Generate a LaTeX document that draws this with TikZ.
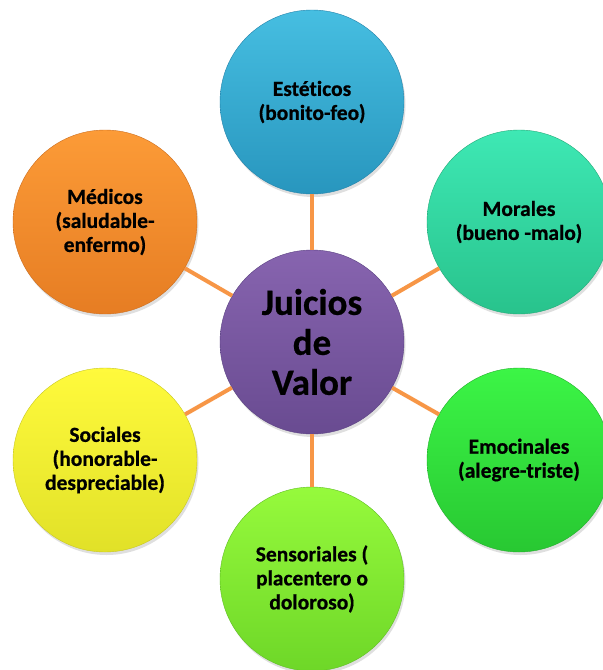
\documentclass[tikz,border=0pt]{standalone}
\usepackage{fontspec}
\setmainfont{Carlito}[BoldFont={Carlito Bold}, BoldFeatures={FakeBold=0.6}, Ligatures=NoCommon]
\usetikzlibrary{shadows}
\tikzset{
  bubble/.style={circle, minimum size=184pt, inner sep=0pt, align=center,
    font=\fontsize{21.5}{24}\selectfont\bfseries, text=black,
    drop shadow={opacity=0.25, shadow xshift=1.5pt, shadow yshift=-3pt}},
  conn/.style={draw=linkorange, line width=4pt}
}
\definecolor{linkorange}{HTML}{F79646}
\begin{document}
\begin{tikzpicture}[x=1pt,y=-1pt]
\useasboundingbox (0,0) rectangle (603,670);
\clip (0,0) rectangle (603,670);
\fill[white] (0,0) rectangle (603,670);
\node[bubble, top color={rgb,255:red,70;green,190;blue,225}, bottom color={rgb,255:red,40;green,150;blue,190}, draw={rgb,255:red,35;green,130;blue,170}] (t) at (312,102) {Estéticos\\(bonito-feo)};
\node[bubble, top color={rgb,255:red,62;green,232;blue,180}, bottom color={rgb,255:red,40;green,195;blue,140}, draw={rgb,255:red,35;green,170;blue,120}] (tr) at (519,222) {Morales\\(bueno -malo)};
\node[bubble, top color={rgb,255:red,60;green,245;blue,70}, bottom color={rgb,255:red,40;green,200;blue,50}, draw={rgb,255:red,35;green,175;blue,45}] (br) at (519,460) {Emocinales\\(alegre-triste)};
\node[bubble, top color={rgb,255:red,150;green,250;blue,60}, bottom color={rgb,255:red,110;green,215;blue,40}, draw={rgb,255:red,95;green,190;blue,35}] (b) at (312,579) {Sensoriales (\\placentero o\\doloroso)};
\node[bubble, top color={rgb,255:red,255;green,250;blue,60}, bottom color={rgb,255:red,225;green,225;blue,40}, draw={rgb,255:red,200;green,200;blue,35}] (bl) at (105,460) {Sociales\\(honorable-\\despreciable)};
\node[bubble, top color={rgb,255:red,252;green,155;blue,55}, bottom color={rgb,255:red,230;green,125;blue,35}, draw={rgb,255:red,205;green,110;blue,30}] (tl) at (105,222) {Médicos\\(saludable-\\enfermo)};
\node[bubble, font=\fontsize{37}{40}\selectfont\bfseries, top color={rgb,255:red,135;green,100;blue,175}, bottom color={rgb,255:red,105;green,75;blue,145}, draw={rgb,255:red,90;green,65;blue,130}] (c) at (312,342) {Juicios\\de\\Valor};
\draw[conn] (c) -- (t);
\draw[conn] (c) -- (tr);
\draw[conn] (c) -- (br);
\draw[conn] (c) -- (b);
\draw[conn] (c) -- (bl);
\draw[conn] (c) -- (tl);
\end{tikzpicture}
\end{document}
